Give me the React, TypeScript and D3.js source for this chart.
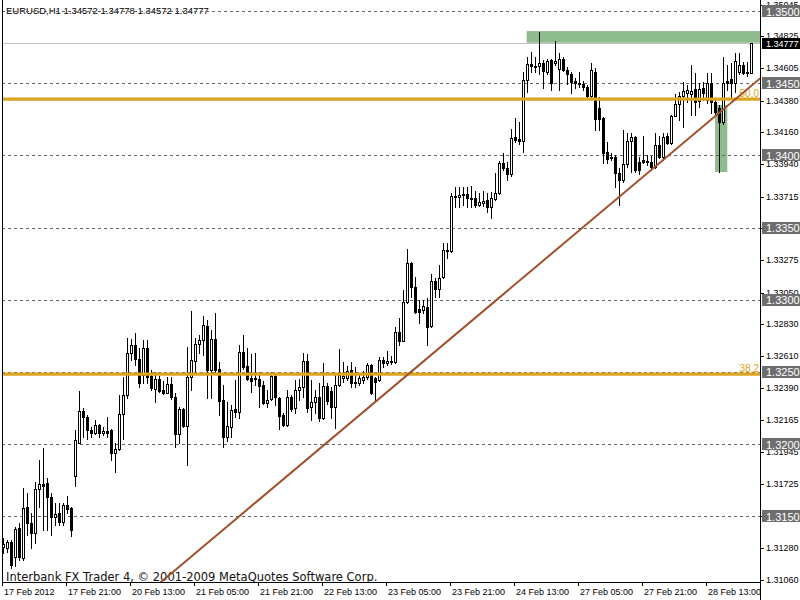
import React from 'react';
import * as d3 from 'd3';

// [open, high, low, close] hourly EURUSD bars
const CANDLES: [number, number, number, number][] = [
[1.31288,1.31350,1.31245,1.31308],
[1.31281,1.31336,1.31252,1.31322],
[1.31322,1.31336,1.31142,1.31162],
[1.31218,1.31426,1.31155,1.31412],
[1.31419,1.31453,1.31197,1.31218],
[1.31211,1.31696,1.31197,1.31558],
[1.31565,1.31661,1.31370,1.31453],
[1.31453,1.31522,1.31281,1.31384],
[1.31384,1.31737,1.31315,1.31689],
[1.31689,1.31890,1.31565,1.31723],
[1.31723,1.31973,1.31405,1.31709],
[1.31730,1.31765,1.31405,1.31634],
[1.31634,1.31661,1.31370,1.31495],
[1.31495,1.31592,1.31439,1.31515],
[1.31522,1.31592,1.31439,1.31460],
[1.31460,1.31592,1.31439,1.31578],
[1.31578,1.31640,1.31522,1.31551],
[1.31558,1.31565,1.31363,1.31405],
[1.31778,1.32098,1.31709,1.32028],
[1.32007,1.32368,1.32007,1.32229],
[1.32229,1.32250,1.32050,1.32188],
[1.32188,1.32201,1.32036,1.32098],
[1.32098,1.32119,1.32050,1.32077],
[1.32077,1.32167,1.32070,1.32132],
[1.32132,1.32139,1.32050,1.32077],
[1.32077,1.32119,1.32063,1.32091],
[1.32091,1.32188,1.32050,1.32077],
[1.32098,1.32105,1.31890,1.31938],
[1.31938,1.32007,1.31806,1.31966],
[1.31966,1.32340,1.31959,1.32208],
[1.32208,1.32465,1.32036,1.32340],
[1.32340,1.32735,1.32320,1.32631],
[1.32631,1.32728,1.32582,1.32686],
[1.32686,1.32769,1.32547,1.32590],
[1.32590,1.32666,1.32396,1.32423],
[1.32478,1.32721,1.32423,1.32666],
[1.32666,1.32721,1.32423,1.32465],
[1.32471,1.32513,1.32375,1.32389],
[1.32382,1.32499,1.32291,1.32451],
[1.32451,1.32472,1.32361,1.32368],
[1.32375,1.32437,1.32347,1.32354],
[1.32354,1.32465,1.32354,1.32416],
[1.32416,1.32465,1.32312,1.32327],
[1.32327,1.32354,1.31980,1.32070],
[1.32070,1.32257,1.32007,1.32243],
[1.32243,1.32250,1.32119,1.32125],
[1.32125,1.32673,1.31855,1.32465],
[1.32465,1.32922,1.32375,1.32582],
[1.32575,1.32735,1.32499,1.32693],
[1.32693,1.32755,1.32631,1.32721],
[1.32721,1.32887,1.32617,1.32825],
[1.32818,1.32860,1.32320,1.32513],
[1.32513,1.32790,1.32320,1.32728],
[1.32728,1.32908,1.32499,1.32513],
[1.32520,1.32568,1.32201,1.32298],
[1.32305,1.32409,1.31980,1.32050],
[1.32050,1.32291,1.32021,1.32125],
[1.32119,1.32270,1.32050,1.32236],
[1.32243,1.32444,1.32188,1.32222],
[1.32222,1.32686,1.32181,1.32638],
[1.32638,1.32755,1.32520,1.32533],
[1.32540,1.32666,1.32444,1.32451],
[1.32458,1.32624,1.32361,1.32437],
[1.32451,1.32631,1.32409,1.32458],
[1.32451,1.32499,1.32257,1.32402],
[1.32409,1.32437,1.32277,1.32284],
[1.32284,1.32375,1.32257,1.32305],
[1.32312,1.32499,1.32305,1.32472],
[1.32472,1.32478,1.32270,1.32327],
[1.32320,1.32327,1.32105,1.32195],
[1.32201,1.32215,1.32125,1.32132],
[1.32132,1.32375,1.32125,1.32327],
[1.32327,1.32340,1.32229,1.32243],
[1.32250,1.32444,1.32215,1.32375],
[1.32375,1.32451,1.32305,1.32396],
[1.32396,1.32631,1.32327,1.32575],
[1.32575,1.32624,1.32222,1.32250],
[1.32257,1.32444,1.32167,1.32291],
[1.32291,1.32375,1.32215,1.32327],
[1.32327,1.32423,1.32160,1.32181],
[1.32181,1.32561,1.32174,1.32402],
[1.32402,1.32423,1.32277,1.32298],
[1.32368,1.32396,1.32181,1.32257],
[1.32257,1.32492,1.32112,1.32409],
[1.32409,1.32659,1.32402,1.32478],
[1.32458,1.32568,1.32430,1.32472],
[1.32458,1.32540,1.32444,1.32506],
[1.32513,1.32568,1.32396,1.32423],
[1.32430,1.32533,1.32396,1.32423],
[1.32423,1.32492,1.32409,1.32458],
[1.32444,1.32506,1.32423,1.32465],
[1.32465,1.32561,1.32451,1.32547],
[1.32547,1.32554,1.32347,1.32354],
[1.32458,1.32465,1.32305,1.32430],
[1.32444,1.32603,1.32437,1.32582],
[1.32582,1.32603,1.32533,1.32561],
[1.32561,1.32645,1.32547,1.32575],
[1.32568,1.32610,1.32554,1.32575],
[1.32568,1.32811,1.32561,1.32776],
[1.32776,1.32873,1.32686,1.32714],
[1.32714,1.33067,1.32714,1.32984],
[1.32984,1.33352,1.32977,1.33254],
[1.33254,1.33261,1.33019,1.33089],
[1.33089,1.33158,1.32908,1.32915],
[1.32936,1.32998,1.32839,1.32915],
[1.32929,1.32998,1.32908,1.32956],
[1.32950,1.33012,1.32686,1.32812],
[1.32818,1.33178,1.32812,1.33130],
[1.33130,1.33151,1.33019,1.33075],
[1.33075,1.33240,1.33019,1.33151],
[1.33158,1.33393,1.33151,1.33344],
[1.33344,1.33393,1.33289,1.33337],
[1.33337,1.33739,1.33330,1.33718],
[1.33718,1.33781,1.33643,1.33711],
[1.33711,1.33781,1.33643,1.33725],
[1.33725,1.33781,1.33656,1.33732],
[1.33732,1.33781,1.33643,1.33704],
[1.33704,1.33788,1.33643,1.33697],
[1.33704,1.33753,1.33643,1.33656],
[1.33656,1.33739,1.33649,1.33677],
[1.33670,1.33753,1.33649,1.33684],
[1.33691,1.33739,1.33608,1.33643],
[1.33643,1.33746,1.33566,1.33704],
[1.33697,1.33877,1.33691,1.33739],
[1.33739,1.33961,1.33732,1.33947],
[1.33947,1.34016,1.33899,1.33913],
[1.33913,1.33954,1.33829,1.33871],
[1.33871,1.34183,1.33857,1.34121],
[1.34128,1.34259,1.34092,1.34106],
[1.34113,1.34231,1.34078,1.34099],
[1.34099,1.34577,1.34023,1.34522],
[1.34522,1.34682,1.34439,1.34633],
[1.34633,1.34716,1.34577,1.34619],
[1.34619,1.34682,1.34577,1.34612],
[1.34619,1.34854,1.34563,1.34640],
[1.34640,1.34661,1.34467,1.34584],
[1.34577,1.34668,1.34563,1.34654],
[1.34661,1.34668,1.34453,1.34501],
[1.34640,1.34792,1.34626,1.34654],
[1.34598,1.34709,1.34453,1.34668],
[1.34668,1.34682,1.34584,1.34591],
[1.34591,1.34612,1.34494,1.34563],
[1.34563,1.34577,1.34432,1.34508],
[1.34515,1.34536,1.34467,1.34501],
[1.34501,1.34577,1.34474,1.34494],
[1.34494,1.34515,1.34453,1.34474],
[1.34474,1.34487,1.34398,1.34412],
[1.34412,1.34640,1.34405,1.34591],
[1.34577,1.34605,1.34176,1.34252],
[1.34329,1.34405,1.34176,1.34252],
[1.34259,1.34266,1.33947,1.34016],
[1.34023,1.34092,1.33947,1.33975],
[1.33989,1.34016,1.33968,1.33982],
[1.33989,1.34002,1.33781,1.33878],
[1.33878,1.33913,1.33656,1.33829],
[1.33829,1.34176,1.33815,1.33940],
[1.33940,1.34155,1.33920,1.34099],
[1.34099,1.34155,1.33885,1.34127],
[1.34127,1.34134,1.33885,1.33899],
[1.33954,1.33989,1.33871,1.33899],
[1.33968,1.34134,1.33947,1.33954],
[1.33961,1.34002,1.33933,1.33954],
[1.33954,1.33996,1.33899,1.33920],
[1.33920,1.34155,1.33913,1.34071],
[1.34071,1.34134,1.33982,1.33989],
[1.33989,1.34155,1.33968,1.34127],
[1.34134,1.34155,1.34078,1.34085],
[1.34085,1.34279,1.34078,1.34272],
[1.34272,1.34425,1.34272,1.34356],
[1.34356,1.34439,1.34245,1.34412],
[1.34412,1.34508,1.34197,1.34446],
[1.34432,1.34487,1.34370,1.34453],
[1.34425,1.34626,1.34279,1.34446],
[1.34460,1.34570,1.34279,1.34370],
[1.34377,1.34501,1.34335,1.34460],
[1.34467,1.34508,1.34384,1.34432],
[1.34384,1.34570,1.34363,1.34501],
[1.34501,1.34570,1.34293,1.34370],
[1.34370,1.34384,1.34279,1.34300],
[1.34329,1.34349,1.33885,1.34231],
[1.34231,1.34682,1.34217,1.34501],
[1.34515,1.34626,1.34453,1.34501],
[1.34529,1.34640,1.34405,1.34501],
[1.34501,1.34709,1.34439,1.34654],
[1.34577,1.34709,1.34563,1.34626],
[1.34626,1.34647,1.34563,1.34570],
[1.34577,1.34647,1.34549,1.34570],
[1.34572,1.34778,1.34572,1.34777],
];

const SYMBOL = 'EURUSD,H1';
const TIME_TICKS = [0, 16, 32, 48, 64, 80, 96, 112, 128, 144, 160, 176];
const TIME_LABELS = ['17 Feb 2012', '17 Feb 21:00', '20 Feb 13:00', '21 Feb 05:00', '21 Feb 21:00', '22 Feb 13:00',
  '23 Feb 05:00', '23 Feb 21:00', '24 Feb 13:00', '27 Feb 05:00', '27 Feb 21:00', '28 Feb 13:00'];
const PRICE_TICKS = [1.35045, 1.34825, 1.34605, 1.34380, 1.34160, 1.33940, 1.33715, 1.33495, 1.33275, 1.33050,
  1.32830, 1.32610, 1.32390, 1.32165, 1.31945, 1.31725, 1.31505, 1.31280, 1.31060];
const H_LEVELS = [1.3500, 1.3450, 1.3400, 1.3350, 1.3300, 1.3250, 1.3200, 1.3150];
const FIB_LABELS = ['50.0', '38.2'];
const FIB_PRICES = [1.34390, 1.32485];
const TREND_INDEX = [60, 179];
const TREND_PRICE = [1.31525, 1.34297];
const ZONE_INDEX: [number, number][] = [[130.8, 195], [177.9, 180.95]];
const ZONE_PRICE: [number, number][] = [[1.34780, 1.34861], [1.33885, 1.34349]];
const WATERMARK = 'Interbank FX Trader 4, \u00A9 2001-2009 MetaQuotes Software Corp.';

const W = 800, H = 600;
const LEFT = 2, RIGHT = 760, BOTTOM = 582;
const FONT = '"Liberation Sans", Arial, sans-serif';

export default function App() {
  const n = CANDLES.length;
  const x = d3.scaleLinear().domain([0, n - 1]).range([3.5, 751.5]);
  const y = d3.scaleLinear().domain([1.315, 1.35]).range([516.3, 11]);
  const last = CANDLES[n - 1];
  const title = `${SYMBOL} ${last.map(v => v.toFixed(5)).join(' ')}`;

  const tSlope = (TREND_PRICE[1] - TREND_PRICE[0]) / (TREND_INDEX[1] - TREND_INDEX[0]);
  const tAt = (i: number) => TREND_PRICE[0] + (i - TREND_INDEX[0]) * tSlope;
  const ti0 = -5, ti1 = 200;

  const candles = CANDLES.map(([o, h, l, c], i) => {
    const cx = Math.floor(x(i)) + 0.5;
    const yo = Math.round(y(o)), yc = Math.round(y(c));
    const yh = Math.round(y(h)), yl = Math.round(y(l));
    const top = Math.min(yo, yc), bot = Math.max(yo, yc);
    let body;
    if (bot === top) {
      body = <rect x={cx - 1.5} y={top} width={3} height={1} fill="#000" />;
    } else if (c > o) {
      body = <rect x={cx - 1} y={top + 0.5} width={2} height={bot - top} fill="#fff" stroke="#000" strokeWidth={1} />;
    } else {
      body = <rect x={cx - 1.5} y={top} width={3} height={bot - top + 1} fill="#000" />;
    }
    return (
      <g key={i}>
        <line x1={cx} x2={cx} y1={yh} y2={yl + 1} stroke="#000" strokeWidth={1} />
        {body}
      </g>
    );
  });

  const py = (v: number) => Math.round(y(v)) + 0.5;
  // axis labels that sit right under a level box are not visible in the reference
  const visibleTicks = PRICE_TICKS.filter(v => !H_LEVELS.some(l => Math.abs(y(l) - y(v)) < 3));

  return (
    <svg width={W} height={H} style={{ position: 'absolute', left: 0, top: 0, background: '#fff' }}
      fontFamily={FONT}>
      <defs>
        <clipPath id="plotArea">
          <rect x={LEFT} y={0} width={RIGHT - LEFT} height={BOTTOM} />
        </clipPath>
      </defs>
      <rect x={0} y={0} width={W} height={H} fill="#fff" />

      <g clipPath="url(#plotArea)">
        {ZONE_INDEX.map(([a, b], k) => (
          <rect key={k} x={x(a)} width={x(b) - x(a)} y={y(ZONE_PRICE[k][1])}
            height={y(ZONE_PRICE[k][0]) - y(ZONE_PRICE[k][1])} fill="#8FBC8F" />
        ))}
        <text x={6} y={14} fontSize={9.5} fill="#000">{title}</text>
        {H_LEVELS.map(v => (
          <line key={v} x1={LEFT} x2={RIGHT} y1={py(v)} y2={py(v)} stroke="#666" strokeDasharray="3,3" shapeRendering="crispEdges" />
        ))}
        <line x1={LEFT} x2={RIGHT} y1={py(last[3])} y2={py(last[3])} stroke="#c0c0c0" shapeRendering="crispEdges" />
        <g shapeRendering="crispEdges">{candles}</g>
        {FIB_PRICES.map((p, k) => (
          <g key={k}>
            <line x1={LEFT} x2={RIGHT} y1={y(p)} y2={y(p)} stroke="#DAA520" strokeWidth={3.2} />
            <text x={RIGHT - 1} y={y(p) - 2.5} textAnchor="end" fontSize={10} fill="#DAA520">{FIB_LABELS[k]}</text>
          </g>
        ))}
        <text x={6} y={580.5} fontSize={11.5} fontFamily='"DejaVu Sans", sans-serif' fill="#111">{WATERMARK}</text>
        <line x1={x(ti0)} y1={y(tAt(ti0))} x2={x(ti1)} y2={y(tAt(ti1))} stroke="#A0522D" strokeWidth={2} />
      </g>

      <g shapeRendering="crispEdges" stroke="#000">
        <line x1={LEFT + 0.5} x2={LEFT + 0.5} y1={0} y2={BOTTOM + 1} />
        <line x1={RIGHT + 0.5} x2={RIGHT + 0.5} y1={0} y2={H} />
        <line x1={LEFT} x2={RIGHT + 1} y1={BOTTOM + 0.5} y2={BOTTOM + 0.5} />
        {PRICE_TICKS.map(v => (
          <line key={v} x1={RIGHT} x2={RIGHT + 4} y1={py(v)} y2={py(v)} />
        ))}
        {TIME_TICKS.map(i => (
          <line key={i} x1={Math.floor(x(i)) - 0.5} x2={Math.floor(x(i)) - 0.5} y1={BOTTOM} y2={BOTTOM + 4} />
        ))}
      </g>
      {visibleTicks.map(v => (
        <text key={v} x={766} y={y(v)} dominantBaseline="central" fontSize={9} fill="#000">{v.toFixed(5)}</text>
      ))}
      {TIME_TICKS.map((i, k) => (
        <text key={i} x={Math.floor(x(i)) + 1} y={595} fontSize={9} fill="#000">{TIME_LABELS[k]}</text>
      ))}
      {H_LEVELS.map(v => (
        <g key={v}>
          <rect x={762} y={Math.round(y(v)) - 6} width={38} height={12} fill="#6e6e6e" />
          <text x={766} y={y(v) + 0.5} dominantBaseline="central" fontSize={11} fill="#fff">{v.toFixed(4)}</text>
        </g>
      ))}
      <rect x={762} y={Math.round(y(last[3])) - 5} width={38} height={11} fill="#000" />
      <text x={766} y={y(last[3]) + 0.5} dominantBaseline="central" fontSize={9} fill="#fff">{last[3].toFixed(5)}</text>
    </svg>
  );
}
